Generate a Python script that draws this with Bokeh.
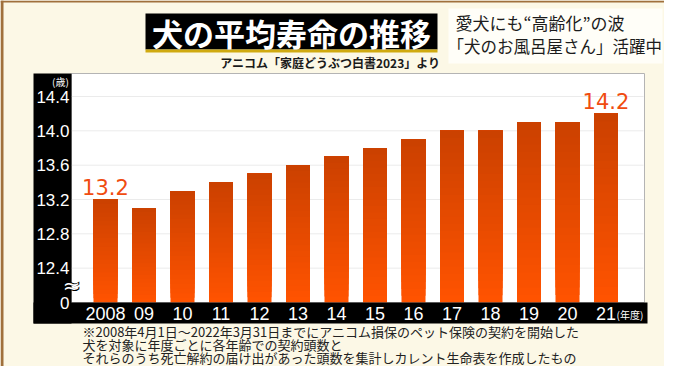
from bokeh.plotting import figure
from bokeh.models import Range1d
from bokeh.core.properties import value
from bokeh.embed import file_html
from bokeh.resources import INLINE

# ---------------- data ----------------
years = ["2008", "09", "10", "11", "12", "13", "14", "15", "16", "17", "18", "19", "20", "21"]
lifespan = [13.2, 13.1, 13.3, 13.4, 13.5, 13.6, 13.7, 13.8, 13.9, 14.0, 14.0, 14.1, 14.1, 14.2]
y_ticks = [12.0, 12.4, 12.8, 13.2, 13.6, 14.0, 14.4]
y_tick_labels = ["0", "12.4", "12.8", "13.2", "13.6", "14.0", "14.4"]
highlight_idx = [0, 13]

title_text = "犬の平均寿命の推移"
source_text = "アニコム「家庭どうぶつ白書2023」より"
headline = ["愛犬にも“高齢化”の波", "「犬のお風呂屋さん」活躍中"]
notes = [
    "※2008年4月1日～2022年3月31日までにアニコム損保のペット保険の契約を開始した",
    "犬を対象に年度ごとに各年齢での契約頭数と",
    "それらのうち死亡解約の届け出があった頭数を集計しカレント生命表を作成したもの",
]
y_unit = "(歳)"
x_unit = "(年度)"

# ---------------- layout constants (picture pixels) ----------------
W, H = 664, 366
BAR0_PX, BAR_PITCH = 105.0, 38.5      # centre of first bar, spacing
BASE = 12.0                           # value drawn at the axis break ("0")
BASE_PX, PX_PER_UNIT = 302.0, 85.83

x_start = (0 - BAR0_PX) / BAR_PITCH
x_end = (W - BAR0_PX) / BAR_PITCH
y_start = BASE - (H - BASE_PX) / PX_PER_UNIT
y_end = BASE + BASE_PX / PX_PER_UNIT

CREAM = "#fcf8e6"
BROWN = "#a0703c"
JP = value("Noto Sans CJK JP")
NUM = value("Liberation Sans")

p = figure(width=W, height=H, x_range=Range1d(x_start, x_end), y_range=Range1d(y_start, y_end),
           x_axis_location=None, y_axis_location=None, toolbar_location=None,
           output_backend="svg", min_border=0, title=None)
p.extra_x_ranges = {"px": Range1d(0, W)}
p.extra_y_ranges = {"px": Range1d(H, 0)}
p.grid.visible = False
p.background_fill_color = CREAM
p.border_fill_color = CREAM
p.outline_line_color = None

PX = dict(x_range_name="px", y_range_name="px")

# frame edges (brown) on left and top
p.quad(left=[0], right=[3], top=[0], bottom=[H], fill_color=BROWN, line_color=None, **PX)
p.quad(left=[0], right=[W], top=[0], bottom=[2], fill_color=BROWN, line_color=None, **PX)

# headline backdrop
p.quad(left=[448], right=[662], top=[8], bottom=[63], fill_color="#fffef8", line_color=None, **PX)
# white chart panel
p.quad(left=[71], right=[644], top=[73], bottom=[302], fill_color="white",
       line_color="#b4b4b4", line_width=1, **PX)

# grid lines
grid_vals = y_ticks[1:]
p.segment(x0=[71] * len(grid_vals), x1=[643] * len(grid_vals), y0=grid_vals, y1=grid_vals,
          line_color="#ebebeb", line_width=1, x_range_name="px")

# bars with vertical gradient (bright bottom -> darker top)
def mix(c1, c2, f):
    a = [int(c1[i:i + 2], 16) for i in (1, 3, 5)]
    b = [int(c2[i:i + 2], 16) for i in (1, 3, 5)]
    return "#%02x%02x%02x" % tuple(round(a[j] + (b[j] - a[j]) * f) for j in range(3))

N = 24
bx, bb, bt, bc = [], [], [], []
for i, v in enumerate(lifespan):
    for k in range(N):
        f = k / N
        bx.append(i)
        bb.append(BASE + (v - BASE) * f)
        bt.append(v)
        bc.append(mix("#ff5300", "#c94000", f))
p.vbar(x=bx, bottom=bb, top=bt, width=24 / BAR_PITCH, fill_color=bc, line_color=None)

# black axis strips
p.quad(left=[33], right=[71], top=[73], bottom=[323], fill_color="black", line_color=None, **PX)
p.quad(left=[33], right=[647], top=[302], bottom=[323], fill_color="black", line_color=None, **PX)

# y tick labels
p.text(x=[69] * len(y_ticks), y=y_ticks, text=y_tick_labels, text_align="right",
       text_baseline="middle", text_color="white", text_font=NUM, text_font_size="17px",
       x_range_name="px")
p.text(x=[60], y=[81], text=[y_unit], text_align="center", text_baseline="middle",
       text_color="white", text_font=JP, text_font_size="10px", **PX)
# axis break mark
p.text(x=[71], y=[285], text=["≈"], text_align="center", text_baseline="middle",
       text_color="black", text_font=value("DejaVu Sans"), text_font_size="24px",
       text_font_style="bold", **PX)
p.text(x=[71], y=[285], text=["≈"], text_align="center", text_baseline="middle",
       text_color="white", text_font=value("DejaVu Sans"), text_font_size="21px", **PX)

# x tick labels
p.text(x=list(range(len(years))), y=[313] * len(years), text=years, text_align="center",
       text_baseline="middle", text_color="white", text_font=NUM, text_font_size="18px",
       y_range_name="px")
p.text(x=[616], y=[314], text=[x_unit], text_align="left", text_baseline="middle",
       text_color="white", text_font=JP, text_font_size="10px", **PX)

# value labels
p.text(x=highlight_idx, y=[lifespan[i] for i in highlight_idx],
       text=["%.1f" % lifespan[i] for i in highlight_idx], text_align="center",
       text_baseline="middle", y_offset=-13, text_color="#f04c10",
       text_font=value("DejaVu Sans"), text_font_size="21px")

# title box
p.quad(left=[145], right=[437], top=[13], bottom=[49], fill_color="black", line_color=None, **PX)
p.quad(left=[145], right=[437], top=[49], bottom=[52], fill_color="#d0aa10", line_color=None, **PX)
p.text(x=[291], y=[32], text=[title_text], text_align="center", text_baseline="middle",
       text_color="white", text_font=JP, text_font_size="31px", text_font_style="bold", **PX)
p.text(x=[440], y=[62], text=[source_text], text_align="right", text_baseline="middle",
       text_color="#1a1a1a", text_font=JP, text_font_size="12px", text_font_style="bold", **PX)

# headline
p.text(x=[455], y=[22], text=[headline[0]], text_align="left", text_baseline="middle",
       text_color="#1c1c1c", text_font=JP, text_font_size="17px", **PX)
p.text(x=[447], y=[45], text=[headline[1]], text_align="left", text_baseline="middle",
       text_color="#1c1c1c", text_font=JP, text_font_size="16.5px", **PX)

# footnotes
p.text(x=[82] * len(notes), y=[331, 344, 357], text=notes, text_align="left",
       text_baseline="middle", text_color="#222222", text_font=JP, text_font_size="13px", **PX)

open("out.html", "w").write(file_html(p, INLINE))
